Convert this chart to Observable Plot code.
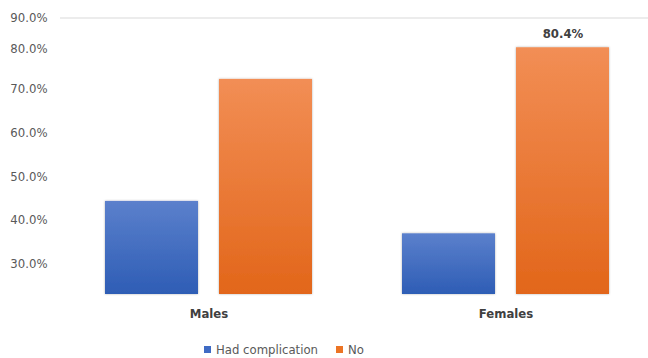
<!DOCTYPE html>
<html>
<head>
<meta charset="utf-8">
<script src="https://cdn.jsdelivr.net/npm/d3@7"></script>
<script src="https://cdn.jsdelivr.net/npm/@observablehq/plot@0.6"></script>
<style>
  html, body { margin: 0; padding: 0; background: #fff; width: 648px; height: 358px; overflow: hidden; }
  #wrap { position: relative; width: 648px; height: 358px; overflow: hidden; }
  svg g[aria-label^="fx-axis"] text { font-weight: bold; fill: #404040; font-size: 13px; }
  #legend { position: absolute; left: 204px; top: 342px; font-family: "Liberation Sans Narrow", "DejaVu Sans Condensed", sans-serif; font-size: 13px; color: #595959; display: flex; align-items: center; white-space: nowrap; }
  #legend .sw { display: inline-block; width: 7px; height: 7px; margin-right: 5px; }
  #legend .item { display: flex; align-items: center; margin-right: 18px; }
</style>
</head>
<body>
<div id="wrap"></div>
<script>
const groups = ["Males", "Females"];
const series = ["Had complication", "No"];
const hadComplication = [44.3, 36.9];
const noComplication = [72.4, 80.4];
const yTicks = [30, 40, 50, 60, 70, 80, 90];
const labelled = [{group: "Females", series: "No", value: 80.4}];
const seriesColors = ["#3f6bc4", "#ec7424"];

const data = groups.flatMap((g, i) => [
  {group: g, series: series[0], value: hadComplication[i]},
  {group: g, series: series[1], value: noComplication[i]}
]);

const fmt = d => d.toFixed(1) + "%";

const chart = Plot.plot({
  width: 648,
  height: 330,
  marginLeft: 60,
  marginRight: -6,
  marginTop: 10,
  marginBottom: 36,
  style: {fontFamily: '"Liberation Sans Narrow", "DejaVu Sans Condensed", sans-serif', fontSize: "13px", color: "#595959", background: "white", overflow: "hidden"},
  fx: {domain: groups, padding: 0, label: null, axis: "bottom", tickSize: 0, tickPadding: 14},
  x: {domain: series, axis: null, paddingInner: 0.186, paddingOuter: 0.394},
  y: {type: "linear", domain: [23, 30, 70, 80, 90], range: [294, 263.5, 88.5, 48.5, 17.5], ticks: yTicks, tickFormat: fmt, tickSize: 0, tickPadding: 13, label: null},
  color: {domain: series, range: ["url(#gBlue)", "url(#gOrange)"]},
  marks: [
    Plot.ruleY([90], {stroke: "#d9d9d9", strokeWidth: 1}),
    Plot.barY(data, {fx: "group", x: "series", y1: 23, y2: "value", fill: "series"}),
    Plot.text(labelled, {fx: "group", x: "series", y: "value", text: d => fmt(d.value), dy: -14, fontWeight: "bold", fill: "#404040", fontSize: 13})
  ]
});

const svg = d3.select(chart.tagName.toLowerCase() === "svg" ? chart : chart.querySelector("svg"));
const defs = svg.insert("defs", ":first-child");
const mk = (id, top, bottom) => {
  const g = defs.append("linearGradient").attr("id", id).attr("x1", 0).attr("y1", 0).attr("x2", 0).attr("y2", 1);
  g.append("stop").attr("offset", "0%").attr("stop-color", top);
  g.append("stop").attr("offset", "100%").attr("stop-color", bottom);
};
mk("gBlue", "#5b80cc", "#2e5db5");
mk("gOrange", "#f28e55", "#e2661a");
const f = defs.append("filter").attr("id", "sh").attr("x", "-10%").attr("y", "-10%").attr("width", "120%").attr("height", "120%");
f.append("feDropShadow").attr("dx", 0).attr("dy", 0).attr("stdDeviation", 1).attr("flood-color", "#000").attr("flood-opacity", 0.3);
svg.selectAll('g[aria-label="bar"] rect').attr("filter", "url(#sh)");

document.getElementById("wrap").appendChild(chart);

const legend = document.createElement("div");
legend.id = "legend";
series.forEach((s, i) => {
  const item = document.createElement("span");
  item.className = "item";
  const sw = document.createElement("span");
  sw.className = "sw";
  sw.style.background = seriesColors[i];
  item.appendChild(sw);
  item.appendChild(document.createTextNode(s));
  legend.appendChild(item);
});
document.getElementById("wrap").appendChild(legend);
</script>
</body>
</html>
